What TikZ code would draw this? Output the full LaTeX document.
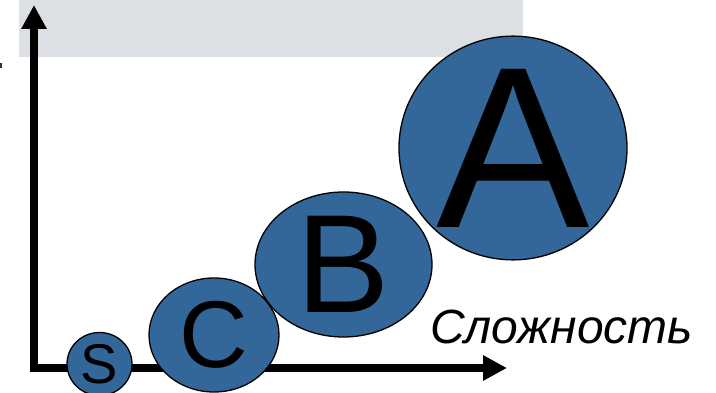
\documentclass[tikz,border=0pt]{standalone}
\usepackage{fontspec}
\setmainfont{Liberation Sans}
\usetikzlibrary{shapes.geometric,arrows.meta}
\definecolor{panelgray}{HTML}{DCE0E4}
\definecolor{classblue}{HTML}{336699}
\tikzset{
  axis/.style={line width=8pt, line join=miter, {Triangle[length=24pt,width=24pt]}-{Triangle[length=24pt,width=24pt]}},
  classbubble/.style={ellipse, draw=black, line width=1.3pt, fill=classblue, inner sep=0pt, text=black},
}
\begin{document}
\begin{tikzpicture}[x=1pt, y=-1pt]
  \useasboundingbox (0,0) rectangle (716,393);
  % header band
  \fill[panelgray] (19,0) rectangle (523,57);
  % edge mark
  \fill[black!80] (0,63) rectangle (2,68);
  % axes
  \coordinate (ytip) at (34,5);
  \coordinate (origin) at (34,368);
  \coordinate (xtip) at (507,368);
  \draw[axis] (ytip) -- (origin) -- (xtip);
  % bubbles
  \node[classbubble, minimum width=65pt, minimum height=63pt] (s) at (99.5,364)
    {\fontsize{56}{56}\selectfont S};
  \node[classbubble, minimum width=130pt, minimum height=114pt] (c) at (214,335)
    {\fontsize{95}{95}\selectfont C};
  \node[classbubble, minimum width=177pt, minimum height=145pt] (b) at (343.5,264.5)
    {\fontsize{140}{140}\selectfont B};
  \node[classbubble, minimum width=228pt, minimum height=194pt] (a) at (513,148)
    {\fontsize{230}{230}\selectfont A};
  % axis label
  \node[anchor=base west, inner sep=0pt] (xlabel) at (430,343)
    {\fontsize{48}{48}\selectfont\itshape Сложность};
\end{tikzpicture}
\end{document}
